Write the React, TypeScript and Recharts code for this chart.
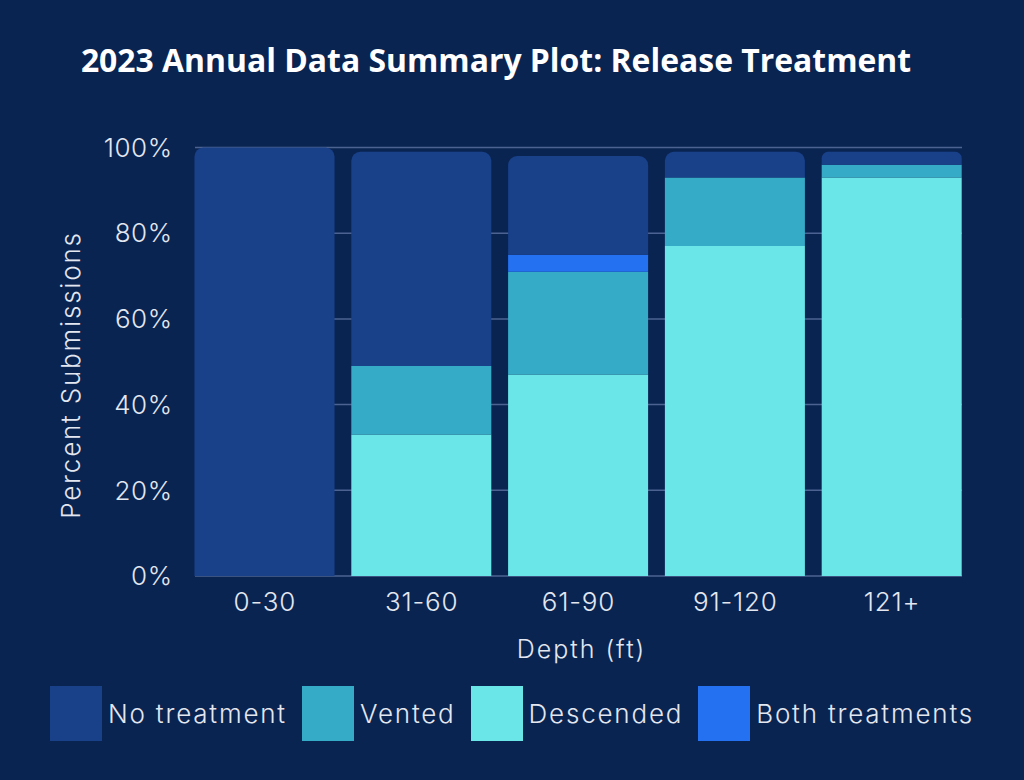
import React from 'react';
import { BarChart, Bar, XAxis, YAxis, CartesianGrid, Label } from 'recharts';

const depths = ['0-30', '31-60', '61-90', '91-120', '121+'];
const descended = [0, 33, 47, 77, 93];
const vented = [0, 16, 24, 16, 3];
const both = [0, 0, 4, 0, 0];
const noTreatment = [100, 50, 23, 6, 3];
const yTicks = [0, 20, 40, 60, 80, 100];

const legendItems = [
  { name: 'No treatment', color: '#18418a' },
  { name: 'Vented', color: '#36abc8' },
  { name: 'Descended', color: '#6ae6e8' },
  { name: 'Both treatments', color: '#2472f2' },
];

const data = depths.map((d, i) => ({
  depth: d,
  descended: descended[i],
  vented: vented[i],
  both: both[i],
  none: noTreatment[i],
}));

const BG = '#0a2452';
const TEXT = '#e3e7f0';
const GRID = '#4c6391';
const FONT = 'Inter, sans-serif';

export default function App() {
  React.useEffect(() => {
    document.body.style.margin = '0';
    document.body.style.background = BG;
  }, []);

  return (
    <div
      style={{
        position: 'relative',
        width: 1024,
        height: 780,
        background: BG,
        fontFamily: FONT,
        overflow: 'hidden',
      }}
    >
      <div
        style={{
          position: 'absolute',
          top: 38,
          left: 0,
          width: 992,
          textAlign: 'center',
          color: '#ffffff',
          fontWeight: 700,
          fontSize: 31.9,
          fontFamily: '"Open Sans", sans-serif',
        }}
      >
        2023 Annual Data Summary Plot: Release Treatment
      </div>

      <BarChart
        width={1024}
        height={780}
        data={data}
        margin={{ top: 147.5, right: 53.5, left: 0, bottom: 104 }}
        barSize={140}
      >
        <CartesianGrid
          vertical={false}
          horizontal={(p: any) => (
            <line
              key={p.key ?? `g-${p.y1}`}
              x1={p.x1 + 8.5}
              x2={p.x2 - 8.5}
              y1={p.y1}
              y2={p.y2}
              stroke={GRID}
              strokeWidth={1.5}
            />
          )}
        />
        <XAxis
          dataKey="depth"
          height={100}
          axisLine={false}
          tickLine={false}
          tickSize={0}
          tickMargin={17}
          tick={{ fill: TEXT, fontSize: 26, fontWeight: 300, fontFamily: FONT, letterSpacing: 0.8 }}
        >
          <Label
            content={(props: any) => {
              const vb = props.viewBox;
              return (
                <text
                  x={vb.x + vb.width / 2 + 3}
                  y={vb.y + 82}
                  textAnchor="middle"
                  fill={TEXT}
                  fontSize={25}
                  fontWeight={300}
                  fontFamily={FONT}
                  letterSpacing={2}
                >
                  Depth (ft)
                </text>
              );
            }}
          />
        </XAxis>
        <YAxis
          width={186.5}
          domain={[0, 100]}
          ticks={yTicks}
          axisLine={false}
          tickLine={false}
          tickSize={0}
          tickMargin={14}
          tickFormatter={(v) => `${v}%`}
          tick={{ fill: TEXT, fontSize: 26, fontWeight: 300, fontFamily: FONT, letterSpacing: 0.5 }}
        >
          <Label
            content={() => (
              <text
                x={0}
                y={0}
                transform="translate(80 375) rotate(-90)"
                textAnchor="middle"
                fill={TEXT}
                fontSize={26}
                fontWeight={300}
                fontFamily={FONT}
                letterSpacing={1.8}
              >
                Percent Submissions
              </text>
            )}
          />
        </YAxis>
        <Bar dataKey="descended" stackId="a" fill="#6ae6e8" isAnimationActive={false} />
        <Bar dataKey="vented" stackId="a" fill="#36abc8" isAnimationActive={false} />
        <Bar dataKey="both" stackId="a" fill="#2472f2" isAnimationActive={false} />
        <Bar dataKey="none" stackId="a" fill="#18418a" radius={[9, 9, 0, 0]} isAnimationActive={false} />
      </BarChart>

      <div
        style={{
          position: 'absolute',
          top: 686,
          left: 50,
          display: 'flex',
          alignItems: 'center',
          color: TEXT,
          fontSize: 26,
          fontWeight: 300,
          letterSpacing: 1.8,
        }}
      >
        {legendItems.map((it) => (
          <div key={it.name} style={{ display: 'flex', alignItems: 'center', marginRight: 15 }}>
            <div
              style={{
                width: 52,
                height: 55,
                background: it.color,
                marginRight: 6,
              }}
            />
            <span>{it.name}</span>
          </div>
        ))}
      </div>
    </div>
  );
}
